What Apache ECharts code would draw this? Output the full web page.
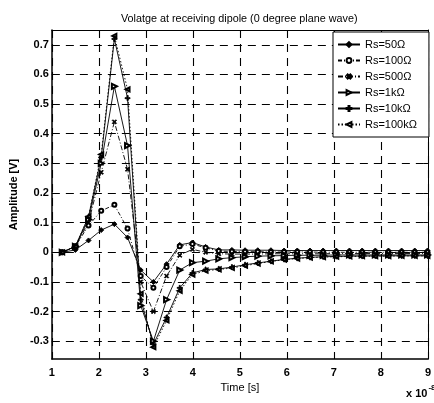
<!DOCTYPE html>
<html>
<head>
<meta charset="utf-8">
<script src="https://cdn.jsdelivr.net/npm/echarts@6/dist/echarts.min.js"></script>
<style>
  html, body { margin: 0; padding: 0; background: #fff; }
  #chart { width: 434px; height: 403px; }
</style>
</head>
<body>
<div id="chart"></div>
<script>
// Time samples (units of 1e-8 s)
const time = [1.22, 1.50, 1.78, 2.05, 2.33, 2.61, 2.89, 3.16, 3.44, 3.72, 3.99, 4.27, 4.55, 4.83, 5.11,
              5.38, 5.66, 5.94, 6.22, 6.49, 6.77, 7.05, 7.33, 7.60, 7.88, 8.16, 8.44, 8.72, 8.99];

// Received voltage [V] for each source resistance
const rs50 = [0, 0.008, 0.04, 0.075, 0.095, 0.05, -0.06, -0.10, -0.04, 0.025, 0.033, 0.018, 0.008, 0.008, 0.007,
              0.007, 0.007, 0.006, 0.006, 0.006, 0.006, 0.006, 0.006, 0.006, 0.006, 0.006, 0.006, 0.006, 0.006];
const rs100 = [0, 0.02, 0.09, 0.14, 0.16, 0.08, -0.08, -0.12, -0.05, 0.02, 0.028, 0.015, 0.004, 0.003, 0.002,
               0.002, 0.001, 0.001, 0.001, 0.001, 0.0, 0.0, 0.0, 0.0, 0.0, 0.0, 0.0, 0.0, 0.0];
const rs500 = [0, 0.02, 0.10, 0.27, 0.44, 0.28, -0.10, -0.20, -0.08, -0.01, 0.01, 0.0, -0.005, -0.006, -0.006,
               -0.006, -0.005, -0.005, -0.005, -0.005, -0.005, -0.004, -0.004, -0.004, -0.004, -0.004, -0.004, -0.004, -0.004];
const rs1k = [0, 0.02, 0.11, 0.30, 0.56, 0.36, -0.18, -0.30, -0.16, -0.06, -0.035, -0.03, -0.022, -0.018, -0.015,
              -0.013, -0.012, -0.011, -0.01, -0.01, -0.01, -0.009, -0.009, -0.009, -0.009, -0.009, -0.009, -0.009, -0.009];
const rs10k = [0, 0.02, 0.12, 0.32, 0.72, 0.52, -0.16, -0.31, -0.22, -0.12, -0.07, -0.058, -0.056, -0.05, -0.042,
               -0.036, -0.03, -0.024, -0.02, -0.017, -0.015, -0.014, -0.013, -0.013, -0.012, -0.012, -0.012, -0.012, -0.012];
const rs100k = [0, 0.02, 0.12, 0.33, 0.73, 0.55, -0.14, -0.32, -0.23, -0.13, -0.075, -0.062, -0.058, -0.053, -0.045,
                -0.038, -0.031, -0.025, -0.021, -0.018, -0.016, -0.015, -0.014, -0.013, -0.013, -0.013, -0.012, -0.012, -0.012];

const seriesNames = ['Rs=50\u03A9', 'Rs=100\u03A9', 'Rs=500\u03A9', 'Rs=1k\u03A9', 'Rs=10k\u03A9', 'Rs=100k\u03A9'];
const yTicks = [-0.3, -0.2, -0.1, 0, 0.1, 0.2, 0.3, 0.4, 0.5, 0.6, 0.7];

const FONT = 'Liberation Sans, Arial, sans-serif';
const plusPath = 'path://M4,0H6V4H10V6H6V10H4V6H0V4H4Z';

const styles = [
  { data: rs50,  line: 'solid',        symbol: 'diamond',       size: 5, rot: 0 },
  { data: rs100, line: [4, 2, 1, 2],   symbol: 'emptyCircle',   size: 4, rot: 0 },
  { data: rs500, line: [5, 2, 1, 2],   symbol: plusPath,        size: 5, rot: 45 },
  { data: rs1k,  line: 'solid',        symbol: 'emptyTriangle', size: 5, rot: -90 },
  { data: rs10k, line: 'solid',        symbol: plusPath,        size: 5, rot: 0 },
  { data: rs100k, line: [1.5, 2],      symbol: 'emptyTriangle', size: 4, rot: 90 }
];

const series = styles.map((s, i) => ({
  name: seriesNames[i],
  type: 'line',
  xAxisIndex: 0,
  yAxisIndex: 0,
  data: time.map((t, k) => [t, s.data[k]]),
  symbol: s.symbol,
  symbolSize: s.size,
  symbolRotate: s.rot,
  showAllSymbol: true,
  animation: false,
  lineStyle: { color: '#000', width: 0.9, type: s.line },
  itemStyle: { color: '#000', borderColor: '#000', borderWidth: 0.9 },
  emphasis: { disabled: true }
}));

const dashed = { color: '#000', width: 1.1, type: [8, 6] };

const option = {
  backgroundColor: '#fff',
  animation: false,
  title: {
    text: 'Volatge at receiving dipole (0 degree plane wave)',
    left: 116,
    top: 9,
    textStyle: { fontFamily: FONT, fontSize: 10.8, fontWeight: 'normal', color: '#000' }
  },
  legend: {
    orient: 'vertical',
    left: 333,
    top: 32,
    itemWidth: 22,
    itemHeight: 6,
    itemGap: 5,
    padding: [7, 12, 7, 4],
    backgroundColor: '#fff',
    borderColor: '#000',
    borderWidth: 1,
    borderRadius: 0,
    textStyle: { fontFamily: FONT, fontSize: 11, color: '#000' },
    data: seriesNames
  },
  grid: { left: 46, right: 2, top: 30, bottom: 44, containLabel: false },
  xAxis: [
    {
      type: 'value', min: 1, max: 9, interval: 1, position: 'bottom',
      name: 'Time [s]', nameLocation: 'middle', nameGap: 16,
      nameTextStyle: { fontFamily: FONT, fontSize: 11, color: '#000' },
      axisLine: { onZero: false, lineStyle: { color: '#000', width: 1.5 } },
      axisTick: { inside: true, length: 4, lineStyle: { color: '#000' } },
      axisLabel: { margin: 8, fontFamily: FONT, fontSize: 11, fontWeight: 'bold', color: '#000' },
      splitLine: { show: true, lineStyle: dashed }
    },
    {
      type: 'value', min: 1, max: 9, interval: 1, position: 'top',
      axisLine: { onZero: false, lineStyle: { color: '#000', width: 1 } },
      axisTick: { inside: true, length: 4, lineStyle: { color: '#000' } },
      axisLabel: { show: false },
      splitLine: { show: false }
    }
  ],
  yAxis: [
    {
      type: 'value', min: -0.36, max: 0.75, position: 'left',
      name: 'Amplitude [V]', nameLocation: 'middle', nameGap: 27,
      nameTextStyle: { fontFamily: FONT, fontSize: 11, fontWeight: 'bold', color: '#000' },
      axisLine: { show: true, onZero: false, lineStyle: { color: '#000', width: 1.5 } },
      axisTick: { show: true, inside: true, length: 4, customValues: yTicks, lineStyle: { color: '#000' } },
      axisLabel: {
        customValues: yTicks, margin: 3,
        fontFamily: FONT, fontSize: 11, fontWeight: 'bold', color: '#000',
        formatter: v => String(Math.round(v * 10) / 10)
      },
      splitLine: { show: true, lineStyle: dashed }
    },
    {
      type: 'value', min: -0.36, max: 0.75, position: 'right',
      axisLine: { show: true, onZero: false, lineStyle: { color: '#000', width: 1 } },
      axisTick: { show: true, inside: true, length: 4, customValues: yTicks, lineStyle: { color: '#000' } },
      axisLabel: { show: false },
      splitLine: { show: false }
    }
  ],
  graphic: [
    {
      type: 'text',
      left: 406,
      top: 384,
      style: {
        text: '{a|x 10}{b|-8}',
        rich: {
          a: { fontFamily: FONT, fontSize: 11, fontWeight: 'bold', fill: '#000', padding: [6, 0, 0, 0] },
          b: { fontFamily: FONT, fontSize: 8, fontWeight: 'bold', fill: '#000', padding: [0, 0, 6, 1] }
        }
      }
    }
  ],
  series: series
};

const chart = echarts.init(document.getElementById('chart'), null, { renderer: 'canvas' });
chart.setOption(option);
</script>
</body>
</html>
